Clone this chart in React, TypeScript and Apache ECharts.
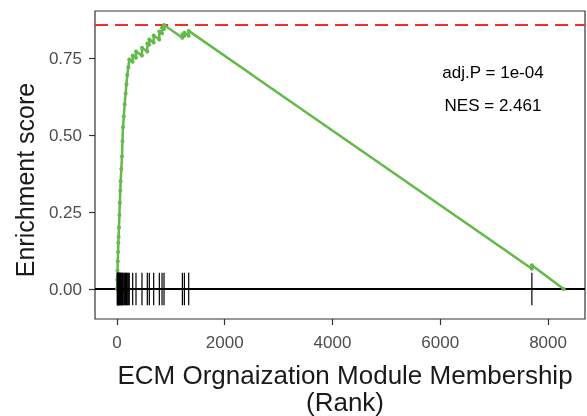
import React, { useEffect, useRef } from "react";
import * as echarts from "echarts";

// Running enrichment score path (rank, ES)
const esRanks = [
  0, 5, 10, 15, 20, 25, 30, 37, 45, 53, 61, 69, 80, 93, 102, 111, 127, 143, 160, 176, 191, 210, 228,
  290, 291, 352, 353, 463, 464, 562, 563, 599, 600, 680, 681, 785, 786, 835, 836, 872, 873,
  1213, 1214, 1250, 1251, 1330, 1331, 7699, 7700, 8290,
];
const esValues = [
  0, 0.03, 0.06, 0.09, 0.12, 0.15, 0.17, 0.2, 0.24, 0.28, 0.32, 0.35, 0.39, 0.43, 0.48, 0.525, 0.56, 0.6, 0.635, 0.665, 0.695, 0.72, 0.745,
  0.738, 0.758, 0.751, 0.771, 0.758, 0.783, 0.771, 0.797, 0.793, 0.81, 0.8, 0.823, 0.81, 0.836, 0.83, 0.848, 0.844, 0.857,
  0.816, 0.826, 0.822, 0.832, 0.822, 0.838, 0.066, 0.077, 0,
];
// Gene-set member ranks (rug)
const hitRanks = [
  5, 10, 15, 20, 25, 30, 37, 45, 53, 61, 69, 80, 93, 102, 111, 127, 143, 160, 176, 191, 210, 228,
  291, 353, 464, 563, 600, 681, 786, 836, 873, 1214, 1251, 1331, 7700,
];
const xTicks = [0, 2000, 4000, 6000, 8000];
const yTicks = [0, 0.25, 0.5, 0.75];
const maxES = 0.857;
const rugHalf = 0.053;
const annotations = ["adj.P = 1e-04", "NES = 2.461"];
const xTitle = ["ECM Orgnaization Module Membership", "(Rank)"];
const yTitle = "Enrichment score";

const X_MIN = -408;
const X_MAX = 8686;
const Y_MIN = -0.0974;
const Y_MAX = 0.9026;

export default function App() {
  const ref = useRef<HTMLDivElement>(null);
  useEffect(() => {
    const chart = echarts.init(ref.current!, null, { renderer: "svg" });
    const font = "'Liberation Sans', Arial, Helvetica, sans-serif";
    const green = "#62BB47";
    const red = "#F42C2C";

    const hline = (value: number, stroke: string, dash: any, width: number) => ({
      type: "custom",
      silent: true,
      z: 1,
      data: [[X_MIN, value]],
      encode: { x: 0, y: 1 },
      renderItem: (params: any, api: any) => {
        const y = api.value(1);
        const a = api.coord([X_MIN, y]);
        const b = api.coord([X_MAX, y]);
        return {
          type: "line",
          shape: { x1: a[0], y1: a[1], x2: b[0], y2: b[1] },
          style: { stroke, lineWidth: width, lineDash: dash },
        };
      },
    });

    chart.setOption({
      animation: false,
      grid: {
        left: 95,
        top: 11,
        right: 2,
        bottom: 97,
        show: true,
        borderColor: "#333",
        borderWidth: 1.2,
        backgroundColor: "#fff",
      },
      xAxis: {
        type: "value",
        min: X_MIN,
        max: X_MAX,
        splitLine: { show: false },
        axisLine: { show: false, onZero: false },
        axisTick: { show: true, customValues: xTicks, length: 6, lineStyle: { color: "#333", width: 1.2 } },
        axisLabel: {
          customValues: xTicks,
          formatter: (v: number) => String(v),
          color: "#4d4d4d",
          fontSize: 17,
          fontFamily: font,
          margin: 15,
        },
      },
      yAxis: {
        type: "value",
        min: Y_MIN,
        max: Y_MAX,
        splitLine: { show: false },
        axisLine: { show: false, onZero: false },
        axisTick: { show: true, customValues: yTicks, length: 6, lineStyle: { color: "#333", width: 1.2 } },
        axisLabel: {
          customValues: yTicks,
          formatter: (v: number) => v.toFixed(2),
          color: "#4d4d4d",
          fontSize: 17,
          fontFamily: font,
          margin: 13,
        },
      },
      series: [
        hline(maxES, red, [13, 7], 2),
        hline(0, red, [13, 7], 2),
        hline(0, "#000", null, 2),
        {
          type: "line",
          z: 2,
          data: esRanks.map((r, i) => [r, esValues[i]]),
          showSymbol: true,
          showAllSymbol: true,
          symbol: "circle",
          symbolSize: 4,
          itemStyle: { color: green },
          lineStyle: { color: green, width: 2.5 },
          silent: true,
        },
        {
          type: "custom",
          z: 3,
          silent: true,
          data: hitRanks.map((r) => [r, 0]),
          encode: { x: 0, y: 1 },
          renderItem: (params: any, api: any) => {
            const x = api.value(0);
            const a = api.coord([x, rugHalf]);
            const b = api.coord([x, -rugHalf]);
            return {
              type: "line",
              shape: { x1: a[0], y1: a[1], x2: b[0], y2: b[1] },
              style: { stroke: "#000", lineWidth: 1.2 },
            };
          },
        },
      ],
      graphic: [
        {
          type: "text",
          x: 493,
          y: 72,
          style: { text: annotations[0], font: `17px ${font}`, fill: "#000", align: "center", verticalAlign: "middle" },
        },
        {
          type: "text",
          x: 493,
          y: 105,
          style: { text: annotations[1], font: `17px ${font}`, fill: "#000", align: "center", verticalAlign: "middle" },
        },
        {
          type: "text",
          x: 345,
          y: 388,
          style: {
            text: xTitle.join("\n"),
            font: `26px ${font}`,
            lineHeight: 27,
            fill: "#1a1a1a",
            align: "center",
            verticalAlign: "middle",
          },
        },
        {
          type: "text",
          x: 25,
          y: 180,
          rotation: Math.PI / 2,
          style: { text: yTitle, font: `25px ${font}`, fill: "#1a1a1a", align: "center", verticalAlign: "middle" },
        },
      ],
    });
    return () => chart.dispose();
  }, []);
  return <div ref={ref} style={{ position: "fixed", left: 0, top: 0, width: 587, height: 416 }} />;
}
